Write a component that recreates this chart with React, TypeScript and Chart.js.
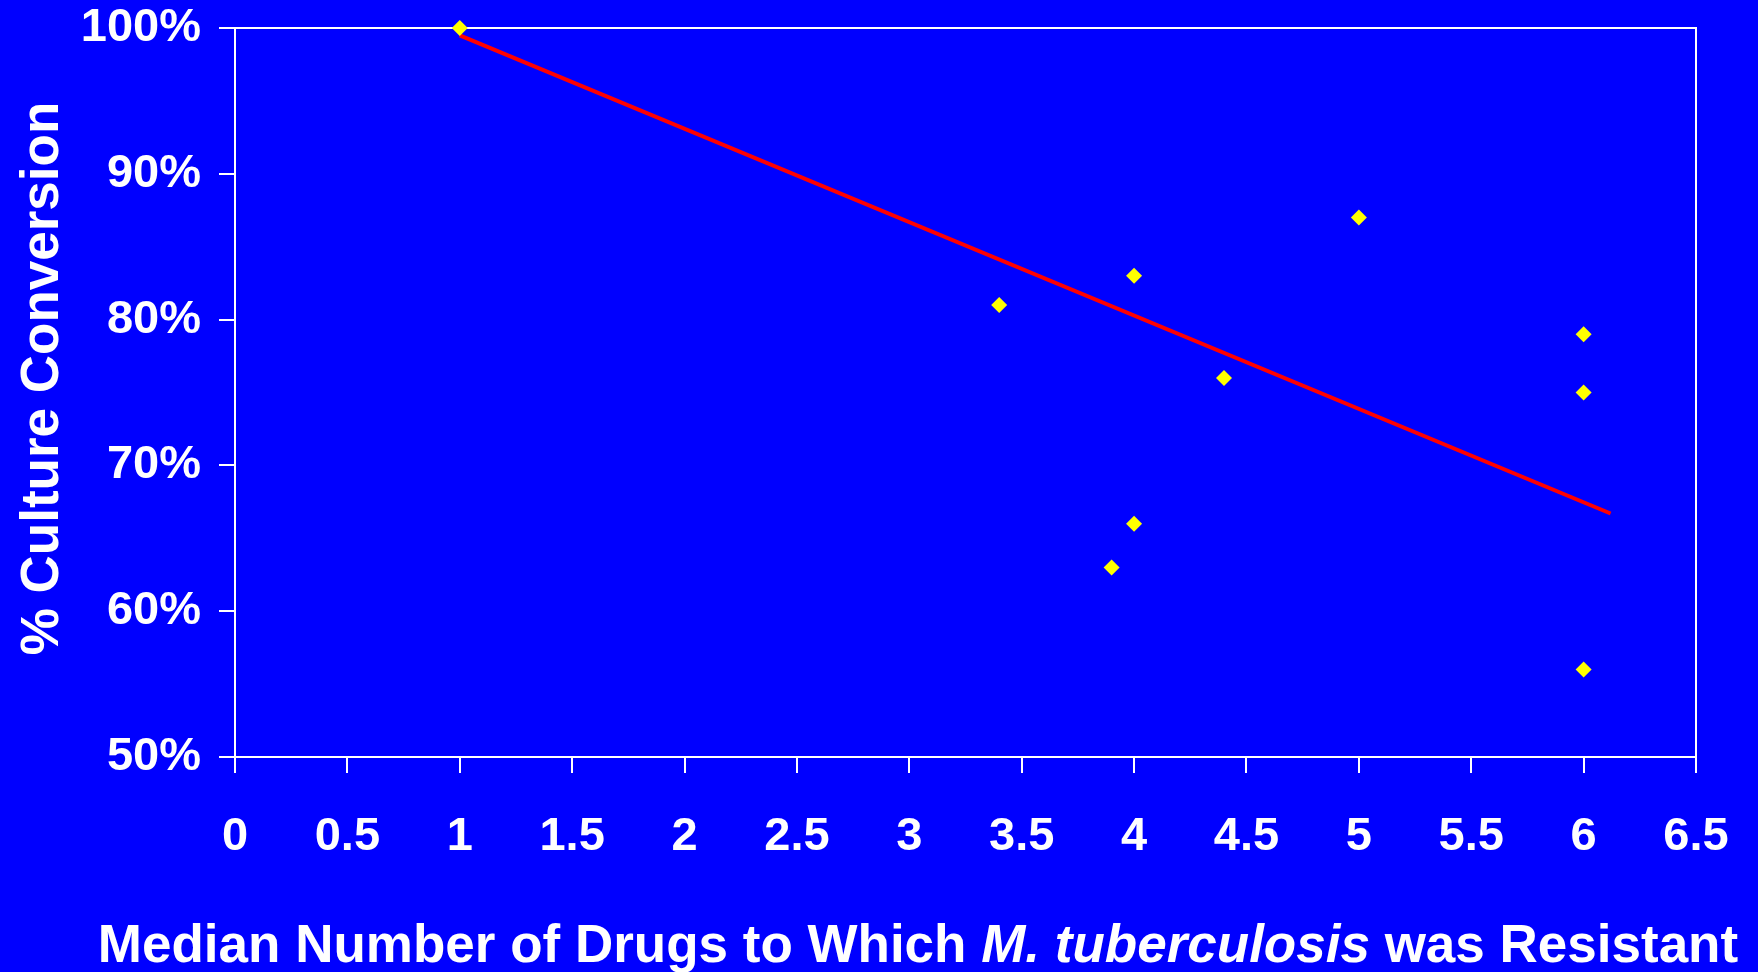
import React, { useEffect, useRef } from "react";
import { Chart, registerables } from "chart.js";

Chart.register(...registerables);

// ---- Data ----
const drugCounts = [1, 3.4, 3.9, 4, 4, 4.4, 5, 6, 6, 6];
const conversionPct = [100, 81, 63, 83, 66, 76, 87, 79, 75, 56];
const trendDrugs = [1, 6.12];
const trendPct = [99.5, 66.7];

const xAxisMin = 0;
const xAxisMax = 6.5;
const xAxisStep = 0.5;
const yAxisMin = 50;
const yAxisMax = 100;
const yAxisStep = 10;

const xTitleParts = [
  { text: "Median Number of Drugs to Which ", italic: false },
  { text: "M. tuberculosis", italic: true },
  { text: " was Resistant", italic: false },
];
const yTitleText = "% Culture Conversion";

const FONT = '"Liberation Sans", Arial, Helvetica, sans-serif';
const BLUE = "#0000FF";

const frameAndTitles = {
  id: "frameAndTitles",
  beforeDatasetsDraw(chart: any) {
    const { ctx, chartArea } = chart;
    ctx.save();
    ctx.strokeStyle = "#FFFFFF";
    ctx.lineWidth = 2;
    ctx.beginPath();
    ctx.moveTo(chartArea.left, chartArea.top);
    ctx.lineTo(chartArea.right, chartArea.top);
    ctx.lineTo(chartArea.right, chartArea.bottom);
    ctx.stroke();
    ctx.restore();
  },
  afterDraw(chart: any) {
    const { ctx } = chart;
    ctx.save();
    ctx.fillStyle = "#FFFFFF";
    ctx.textBaseline = "alphabetic";
    const size = 53;
    // x-axis title with italic species name
    const fonts = xTitleParts.map(
      (p) => `${p.italic ? "italic " : ""}bold ${size}px ${FONT}`
    );
    const widths = xTitleParts.map((p, i) => {
      ctx.font = fonts[i];
      return ctx.measureText(p.text).width;
    });
    const total = widths.reduce((a, b) => a + b, 0);
    let x = 918 - total / 2;
    ctx.textAlign = "left";
    xTitleParts.forEach((p, i) => {
      ctx.font = fonts[i];
      ctx.fillText(p.text, x, 962);
      x += widths[i];
    });
    // y-axis title
    ctx.font = `bold ${size}px ${FONT}`;
    ctx.translate(58, 378.5);
    ctx.rotate(-Math.PI / 2);
    ctx.textAlign = "center";
    ctx.fillText(yTitleText, 0, 0);
    ctx.restore();
  },
};

export default function App() {
  const canvasRef = useRef<HTMLCanvasElement | null>(null);

  useEffect(() => {
    document.body.style.margin = "0";
    document.body.style.background = BLUE;
    const canvas = canvasRef.current;
    if (!canvas) return;

    const scatterPoints = drugCounts.map((x, i) => ({ x, y: conversionPct[i] }));
    const trendPoints = trendDrugs.map((x, i) => ({ x, y: trendPct[i] }));

    const tickFont = { family: FONT, size: 47, weight: "bold" as const };

    const chart = new Chart(canvas, {
      type: "scatter",
      data: {
        datasets: [
          {
            label: "Sites",
            data: scatterPoints,
            pointStyle: "rectRot",
            pointRadius: 8,
            pointBorderWidth: 0,
            backgroundColor: "#FFFF00",
            borderColor: "#FFFF00",
            clip: false as any,
            order: 0,
          },
          {
            type: "line" as any,
            label: "Trend",
            data: trendPoints,
            showLine: true,
            borderColor: "#FF0000",
            borderWidth: 4,
            pointRadius: 0,
            fill: false,
            order: 1,
          } as any,
        ],
      },
      plugins: [frameAndTitles],
      options: {
        responsive: false,
        animation: false,
        events: [],
        layout: { padding: { top: 28, right: 62, left: 0, bottom: 0 } },
        plugins: {
          legend: { display: false },
          tooltip: { enabled: false },
          title: { display: false },
        },
        scales: {
          x: {
            type: "linear",
            min: xAxisMin,
            max: xAxisMax,
            afterFit: (scale: any) => {
              scale.height = 215;
              scale.paddingLeft = 0;
              scale.paddingRight = 0;
            },
            ticks: {
              stepSize: xAxisStep,
              color: "#FFFFFF",
              font: tickFont,
              padding: 36,
              maxRotation: 0,
              autoSkip: false,
              callback: (v: any) => String(v),
            },
            grid: {
              drawOnChartArea: false,
              drawTicks: true,
              tickLength: 16,
              color: "#FFFFFF",
              lineWidth: 2,
            },
            border: { display: true, color: "#FFFFFF", width: 2 },
          },
          y: {
            type: "linear",
            min: yAxisMin,
            max: yAxisMax,
            afterFit: (scale: any) => {
              scale.width = 235;
              scale.paddingTop = 0;
              scale.paddingBottom = 0;
            },
            ticks: {
              stepSize: yAxisStep,
              color: "#FFFFFF",
              font: tickFont,
              padding: 18,
              callback: (v: any) => `${v}%`,
            },
            grid: {
              drawOnChartArea: false,
              drawTicks: true,
              tickLength: 16,
              color: "#FFFFFF",
              lineWidth: 2,
            },
            border: { display: true, color: "#FFFFFF", width: 2 },
          },
        },
      },
    });

    return () => {
      chart.destroy();
    };
  }, []);

  return (
    <div style={{ width: 1758, height: 972, background: BLUE }}>
      <canvas
        ref={canvasRef}
        width={1758}
        height={972}
        style={{ display: "block", width: 1758, height: 972, background: BLUE }}
      />
    </div>
  );
}
